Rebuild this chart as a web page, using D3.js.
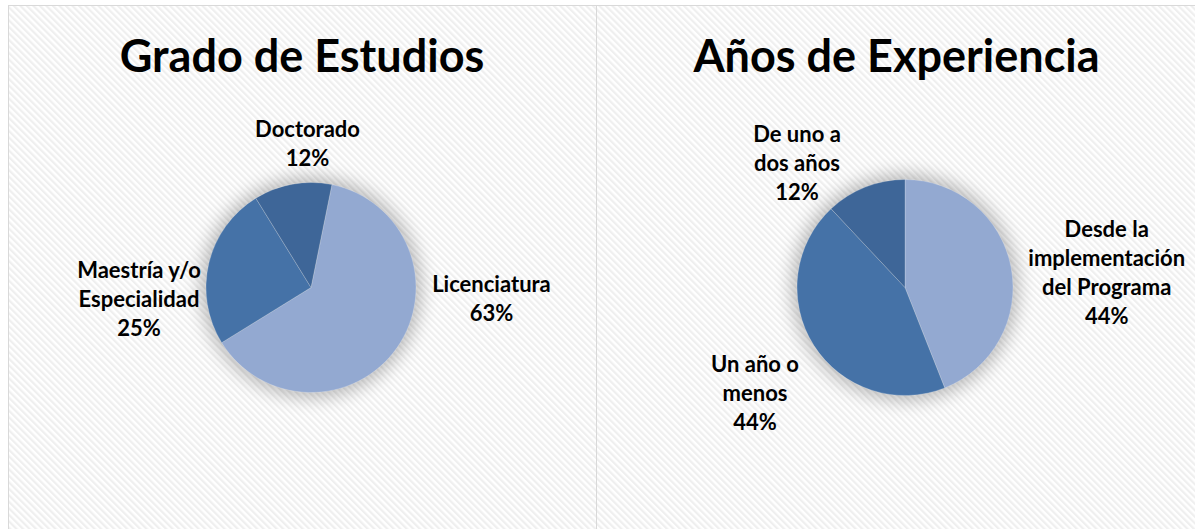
<!DOCTYPE html>
<html lang="es">
<head>
<meta charset="utf-8">
<script src="https://cdn.jsdelivr.net/npm/d3@7/dist/d3.min.js"></script>
<style>
  html, body { margin: 0; padding: 0; background: #ffffff; }
  svg { display: block; }
  .title { font-family: Lato, "Open Sans", sans-serif; font-weight: 700; fill: #000; }
  .lbl { font-family: Lato, "Open Sans", sans-serif; font-weight: 700; fill: #000; }
</style>
</head>
<body>
<svg id="chart" width="1195" height="529"></svg>
<script>
// ---- Data ----
const eduTitle = "Grado de Estudios";
const eduCategories = ["Licenciatura", "Maestría y/o\nEspecialidad", "Doctorado"];
const eduValues = [63, 25, 12];

const expTitle = "Años de Experiencia";
const expCategories = ["Desde la\nimplementación\ndel Programa", "Un año o\nmenos", "De uno a\ndos años"];
const expValues = [44, 44, 12];

// ---- Layout ----
const W = 1195, H = 529;
const sliceColors = ["#93a9d1", "#4572a7", "#3e6698"];
const panels = [
  { title: eduTitle, cats: eduCategories, vals: eduValues,
    x0: 8.5, x1: 596.5, titleX: 302, cx: 311, cy: 287.5, r: 105, rotate: 11.5,
    // label anchor: centre x and first baseline, relative to the pie centre
    labelPos: [[180.5, 4.5], [-172, -9.5], [-3.5, -150.8]] },
  { title: expTitle, cats: expCategories, vals: expValues,
    x0: 596.5, x1: 1200, titleX: 896.5, cx: 905, cy: 287.5, r: 108, rotate: 0,
    labelPos: [[201.7, -50.8], [-150, 84.2], [-108, -145.8]] }
];
const lineH = 29;

const svg = d3.select("#chart");
const defs = svg.append("defs");

// fine diagonal light hatch used as panel fill
const pat = defs.append("pattern")
  .attr("id", "hatch")
  .attr("patternUnits", "userSpaceOnUse")
  .attr("width", 4.6).attr("height", 4.6)
  .attr("patternTransform", "rotate(-45)");
pat.append("rect").attr("width", 4.6).attr("height", 4.6).attr("fill", "#ffffff");
pat.append("rect").attr("width", 2.2).attr("height", 4.6).attr("fill", "#efefef");

// soft glow behind each pie
const glow = defs.append("filter")
  .attr("id", "glow")
  .attr("x", "-50%").attr("y", "-50%").attr("width", "200%").attr("height", "200%");
glow.append("feGaussianBlur").attr("stdDeviation", 9);

panels.forEach(p => {
  const g = svg.append("g");

  g.append("rect")
    .attr("x", p.x0).attr("y", 5.5)
    .attr("width", p.x1 - p.x0).attr("height", H)
    .attr("fill", "url(#hatch)")
    .attr("stroke", "#d9d9d9").attr("stroke-width", 1);

  g.append("text")
    .attr("class", "title")
    .attr("x", p.titleX).attr("y", 72)
    .attr("text-anchor", "middle")
    .attr("font-size", 45)
    .text(p.title);

  const pie = d3.pie()
    .sort(null)
    .startAngle(p.rotate * Math.PI / 180)
    .endAngle(p.rotate * Math.PI / 180 + 2 * Math.PI);
  const arcs = pie(p.vals);
  const arc = d3.arc().innerRadius(0).outerRadius(p.r);

  const pg = g.append("g").attr("transform", `translate(${p.cx},${p.cy})`);

  pg.append("circle")
    .attr("r", p.r + 5)
    .attr("fill", "#000")
    .attr("opacity", 0.26)
    .attr("filter", "url(#glow)");

  pg.selectAll("path.slice")
    .data(arcs)
    .join("path")
    .attr("class", "slice")
    .attr("d", arc)
    .attr("fill", (d, i) => sliceColors[i])
    .attr("stroke", "rgba(255,255,255,0.35)")
    .attr("stroke-width", 0.6);

  const fmt = d3.format(".0%");
  const lg = pg.selectAll("text.lbl")
    .data(arcs)
    .join("text")
    .attr("class", "lbl")
    .attr("font-size", 22)
    .attr("text-anchor", "middle");

  lg.each(function(d, i) {
    const [dx, dy] = p.labelPos[i];
    const lines = p.cats[i].split("\n").concat([fmt(d.data / 100)]);
    d3.select(this).selectAll("tspan")
      .data(lines)
      .join("tspan")
      .attr("x", dx)
      .attr("y", (t, k) => dy + k * lineH)
      .text(t => t);
  });
});
</script>
</body>
</html>
